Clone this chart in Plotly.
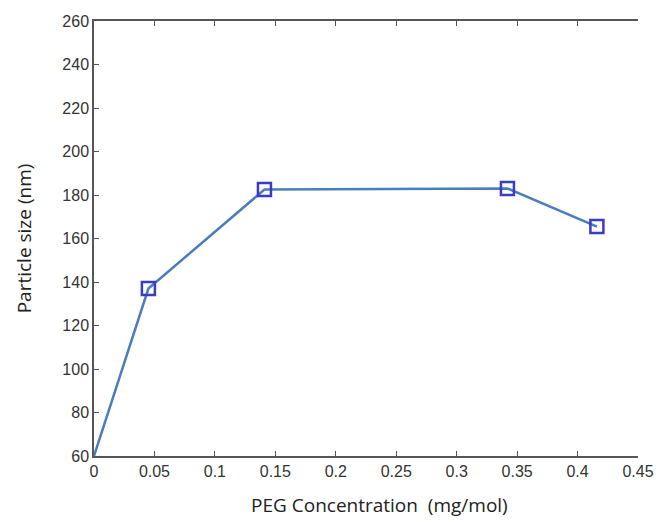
import plotly.graph_objects as go

peg_conc = [0.0, 0.045, 0.141, 0.342, 0.416]
particle_size = [60, 137, 182.5, 183, 165.5]
x_ticks = [0, 0.05, 0.1, 0.15, 0.2, 0.25, 0.3, 0.35, 0.4, 0.45]
x_tick_text = ["0", "0.05", "0.1", "0.15", "0.2", "0.25", "0.3", "0.35", "0.4", "0.45"]
y_ticks = list(range(60, 261, 20))
x_title = "PEG Concentration  (mg/mol)"
y_title = "Particle size (nm)"

fig = go.Figure()
fig.add_trace(go.Scatter(
    x=peg_conc, y=particle_size, mode="lines",
    line=dict(color="#4a7ebb", width=2.5), showlegend=False, cliponaxis=False))
fig.add_trace(go.Scatter(
    x=peg_conc[1:], y=particle_size[1:], mode="markers",
    marker=dict(symbol="square-open", size=13, color="#3b3bc4", line=dict(width=2.5, color="#3b3bc4")),
    showlegend=False))

tickfont = dict(family="Liberation Sans Narrow, Arial Narrow, Liberation Sans, Arial", size=16, color="#333333")
titlefont = dict(family="Open Sans, Noto Sans", size=19, color="#222222")
axcommon = dict(showgrid=False, zeroline=False, showline=True, linecolor="#555555", linewidth=1.5,
                ticks="inside", ticklen=5, tickwidth=1.2, tickcolor="#555555",
                tickfont=tickfont)

fig.update_xaxes(range=[0, 0.45], tickvals=x_ticks, ticktext=x_tick_text, mirror="ticks", **axcommon)
fig.update_yaxes(range=[60, 260], tickvals=y_ticks, mirror=False,
                 title=dict(text=y_title, standoff=26, font=titlefont),
                 **axcommon)

fig.add_annotation(text=x_title, xref="paper", yref="paper", x=0.524, y=0,
                   xanchor="center", yanchor="middle", yshift=-49, showarrow=False, font=titlefont)

fig.update_layout(width=666, height=522, margin=dict(l=94, r=17, t=21, b=66),
                  plot_bgcolor="white", paper_bgcolor="white")
fig.write_html("out.html")
